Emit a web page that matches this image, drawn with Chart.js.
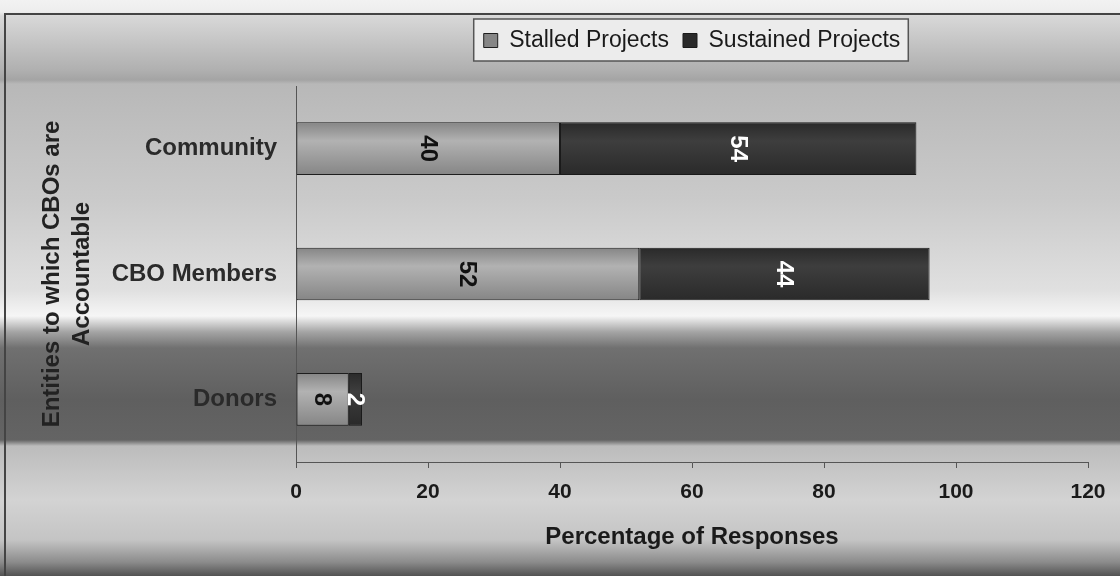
<!DOCTYPE html>
<html>
<head>
<meta charset="utf-8">
<title>Entities to which CBOs are Accountable</title>
<script src="https://cdn.jsdelivr.net/npm/chart.js@4.4.1/dist/chart.umd.min.js"></script>
<style>
  html, body { margin: 0; padding: 0; background: #f0f0f0; }
  #chartDiv { width: 1120px; height: 576px; }
</style>
</head>
<body>
<div id="chartDiv"><canvas id="cboChart" width="1120" height="576"></canvas></div>
<script>
// values
const entities = ["Community", "CBO Members", "Donors"];
const stalledProjects = [40, 52, 8];
const sustainedProjects = [54, 44, 2];
const xTicks = [0, 20, 40, 60, 80, 100, 120];

const fontFamily = "'Liberation Sans', Arial, Helvetica, sans-serif";

// the picture is a grey photocopy, so paint the paper shading behind everything
const scanBackground = {
    id: "scanBackground",
    beforeDraw: (chart) => {
        const { ctx, width, height } = chart;
        const g = ctx.createLinearGradient(0, 0, 0, height);
        const stops = [
            [0, "#f2f2f2"], [12, "#ededed"], [16, "#d8d8d8"], [70, "#b0b0b0"],
            [80, "#a4a4a4"], [84, "#b8b8b8"], [200, "#cacaca"], [290, "#e0e0e0"],
            [316, "#f6f6f6"], [332, "#a4a4a4"], [348, "#707070"], [400, "#5f5f5f"],
            [440, "#646464"], [446, "#bcbcbc"], [500, "#d3d3d3"], [540, "#c4c4c4"],
            [562, "#8c8c8c"], [576, "#525252"],
        ];
        stops.forEach(([y, c]) => g.addColorStop(y / height, c));
        ctx.save();
        ctx.fillStyle = g;
        ctx.fillRect(0, 0, width, height);

        ctx.strokeStyle = "#444";
        ctx.lineWidth = 2;
        ctx.beginPath();
        ctx.moveTo(5, height);
        ctx.lineTo(5, 14);
        ctx.lineTo(width, 14);
        ctx.stroke();

        // legend frame
        const boxes = chart.legend ? chart.legend.legendHitBoxes : [];
        if (boxes.length) {
            const left = Math.min(...boxes.map((b) => b.left)) - 10;
            const right = Math.max(...boxes.map((b) => b.left + b.width)) + 8;
            const top = Math.min(...boxes.map((b) => b.top)) - 10;
            const bottom = Math.max(...boxes.map((b) => b.top + b.height)) + 9;
            ctx.fillStyle = "#ececec";
            ctx.strokeStyle = "#555";
            ctx.lineWidth = 1.5;
            ctx.fillRect(left, top, right - left, bottom - top);
            ctx.strokeRect(left, top, right - left, bottom - top);
        }
        ctx.restore();
    },
};

// rotated value labels inside each bar segment
const labelColors = ["#111111", "#ffffff"];
const barValueLabels = {
    id: "barValueLabels",
    afterDatasetsDraw: (chart) => {
        const ctx = chart.ctx;
        chart.data.datasets.forEach((ds, di) => {
            const meta = chart.getDatasetMeta(di);
            meta.data.forEach((bar, i) => {
                ctx.save();
                ctx.translate((bar.x + bar.base) / 2, bar.y);
                ctx.rotate(Math.PI / 2);
                ctx.font = "bold 24px " + fontFamily;
                ctx.fillStyle = labelColors[di];
                ctx.textAlign = "center";
                ctx.textBaseline = "middle";
                ctx.fillText(String(ds.data[i]), 0, 1);
                ctx.restore();
            });
        });
    },
};

const barShade = (light, dark) => (context) => {
    if (context.type !== "data") return light;
    const chart = context.chart;
    const yScale = chart.scales.y;
    if (!yScale) return light;
    const yc = yScale.getPixelForValue(context.dataIndex);
    const g = chart.ctx.createLinearGradient(0, yc - 26, 0, yc + 26);
    g.addColorStop(0, dark);
    g.addColorStop(0.35, light);
    g.addColorStop(1, dark);
    return g;
};

const ctx = document.getElementById("cboChart").getContext("2d");
const cboChart = new Chart(ctx, {
    type: "bar",
    data: {
        labels: entities,
        datasets: [
            {
                label: "Stalled Projects",
                data: stalledProjects,
                backgroundColor: barShade("#b2b2b2", "#868686"),
                borderColor: "#1e1e1e",
                borderWidth: 1,
                borderSkipped: false,
                barPercentage: 0.42,
                categoryPercentage: 1,
            },
            {
                label: "Sustained Projects",
                data: sustainedProjects,
                backgroundColor: barShade("#3e3e3e", "#2a2a2a"),
                borderColor: "#1a1a1a",
                borderWidth: 1,
                borderSkipped: false,
                barPercentage: 0.42,
                categoryPercentage: 1,
            },
        ],
    },
    options: {
        indexAxis: "y",
        responsive: false,
        animation: false,
        layout: { padding: { left: 32, right: 32, top: 15, bottom: 0 } },
        plugins: {
            legend: {
                position: "top",
                fullSize: false,
                labels: {
                    boxWidth: 14,
                    boxHeight: 14,
                    padding: 14,
                    color: "#1a1a1a",
                    font: { family: fontFamily, size: 23 },
                },
            },
            subtitle: {
                display: true,
                text: "",
                weight: 500,
                font: { size: 10, lineHeight: 1 },
                padding: { top: 0, bottom: 14 },
            },
            tooltip: { enabled: false },
        },
        scales: {
            x: {
                stacked: true,
                min: xTicks[0],
                max: xTicks[xTicks.length - 1],
                ticks: {
                    stepSize: xTicks[1] - xTicks[0],
                    color: "#1a1a1a",
                    padding: 12,
                    font: { family: fontFamily, size: 21, weight: "bold" },
                },
                grid: { drawOnChartArea: false, tickLength: 6, color: "#555" },
                border: { color: "#555", width: 1 },
                title: {
                    display: true,
                    text: "Percentage of Responses",
                    color: "#1a1a1a",
                    font: { family: fontFamily, size: 24, weight: "bold" },
                    padding: { top: 0, bottom: 24 },
                },
                afterFit: (scale) => { scale.height = 114; },
            },
            y: {
                stacked: true,
                ticks: {
                    color: "#2a2a2a",
                    padding: 19,
                    font: { family: fontFamily, size: 24, weight: "bold" },
                },
                grid: { drawOnChartArea: false, drawTicks: false },
                border: { color: "#555", width: 1 },
                title: {
                    display: true,
                    text: ["Entities to which CBOs are", "Accountable"],
                    color: "#222",
                    font: { family: fontFamily, size: 24, weight: "bold", lineHeight: 1.25 },
                    padding: { top: 5, bottom: 0 },
                },
                afterFit: (scale) => { scale.width = 264; },
            },
        },
    },
    plugins: [scanBackground, barValueLabels],
});
</script>
</body>
</html>
